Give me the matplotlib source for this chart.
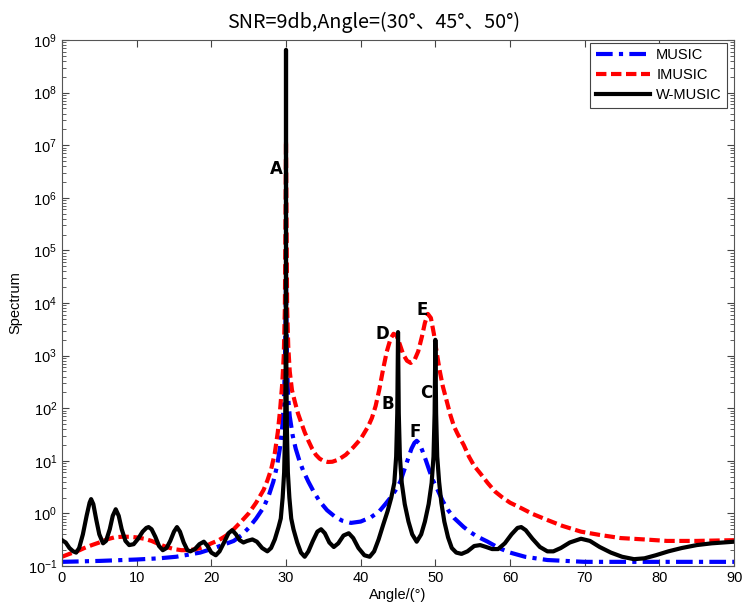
import matplotlib
matplotlib.use("Agg")
import matplotlib.pyplot as plt
from matplotlib.ticker import FixedLocator, NullFormatter, LogFormatterMathtext

plt.rcParams['font.family'] = ['Liberation Sans', 'DejaVu Sans']
plt.rcParams['mathtext.fontset'] = 'custom'
plt.rcParams['mathtext.rm'] = 'Liberation Sans'
plt.rcParams['mathtext.it'] = 'Liberation Sans:italic'

# ---- data ----
music_angle = [0, 5, 10, 13, 15.3, 17, 18.5, 20, 21.5, 23, 24, 25, 26, 27, 27.7, 28.3, 28.8,
               29.2, 29.5, 29.7, 29.85, 30, 30.15, 30.3, 30.5, 30.9, 31.3, 31.8, 32.3, 33,
               33.7, 34.5, 35.5, 36.5, 37.5, 38.7, 40, 41.4, 42.5, 43.3, 44, 44.7, 45.3,
               45.8, 46.3, 46.8, 47.2, 47.5, 47.9, 48.3, 48.7, 49.2, 49.7, 50.3, 51, 51.7,
               52.5, 53.8, 54.7, 55.5, 57, 58.5, 60, 62, 65, 70, 80, 90]
music_val = [0.12, 0.125, 0.133, 0.14, 0.15, 0.165, 0.18, 0.21, 0.25, 0.3, 0.38, 0.53, 0.8,
             1.3, 2.2, 4, 8, 18, 45, 120, 600, 2e4, 600, 150, 70, 30, 17, 10, 6.5, 4,
             2.6, 1.7, 1.15, 0.88, 0.73, 0.66, 0.7, 0.85, 1.1, 1.5, 2.0, 2.8, 4.0,
             6.5, 10.5, 17, 22, 24, 21, 15, 10.5, 6.5, 4.2, 2.8, 1.7, 1.16,
             0.82, 0.55, 0.44, 0.37, 0.29, 0.22, 0.18, 0.15, 0.13, 0.12, 0.12, 0.12]

imusic_angle = [0, 1, 2, 3, 4, 5, 6, 7, 8, 9, 10, 11, 12, 13, 14, 15, 16, 17, 18, 19, 20,
                21, 22, 23, 24, 25, 26, 27, 27.5, 28, 28.5, 28.9, 29.2, 29.5, 29.7, 29.85,
                30, 30.15, 30.3, 30.5, 30.8, 31.2, 31.6, 32, 32.5, 33, 33.5, 34, 34.5, 35,
                35.6, 36.2, 37, 38, 39, 40, 41, 41.5, 42, 42.5, 43, 43.5, 44, 44.4, 44.8,
                45.2, 45.7, 46.2, 46.7, 47.2, 47.7, 48.2, 48.6, 49, 49.4, 49.8, 50.2, 50.6,
                51, 51.5, 52, 52.5, 53, 53.8, 54.5, 55.2, 56, 57, 58, 59, 60, 61.5, 63, 65,
                67, 69.5, 72, 74.8, 78, 81, 85, 90]
imusic_val = [0.15, 0.17, 0.19, 0.22, 0.25, 0.28, 0.32, 0.35, 0.36, 0.36, 0.35, 0.33, 0.3,
              0.26, 0.23, 0.21, 0.2, 0.2, 0.21, 0.23, 0.27, 0.31, 0.38, 0.5, 0.7, 1.0, 1.6,
              2.8, 4.2, 6.8, 14, 35, 90, 300, 1000, 8000, 1.2e7, 8000, 1500, 500, 220,
              130, 80, 55, 35, 24, 17, 13, 11, 10, 9.5, 9.6, 10.5, 13, 18, 26, 45, 65,
              110, 230, 550, 1200, 2100, 2600, 2400, 1700, 1050, 800, 725, 820, 1200,
              2300, 4200, 6200, 5200, 2600, 1100, 500, 260, 140, 75, 45, 32, 20, 12, 8,
              5.8, 3.8, 2.6, 2.0, 1.6, 1.26, 0.98, 0.75, 0.58, 0.45, 0.39, 0.34, 0.32,
              0.30, 0.30, 0.31]

wmusic_angle = [0, 0.5, 1.0, 1.5, 1.9, 2.3, 2.8, 3.3, 3.7, 3.9, 4.2, 4.6, 5.0, 5.5, 5.9,
                6.4, 6.8, 7.2, 7.6, 8.0, 8.5, 9.0, 9.6, 10.2, 10.8, 11.3, 11.6, 12.0, 12.5,
                13.0, 13.5, 14.0, 14.5, 15.0, 15.4, 15.8, 16.3, 16.8, 17.2, 17.8, 18.4,
                19.0, 19.5, 20.0, 20.6, 21.1, 21.7, 22.3, 22.8, 23.3, 23.8, 24.3, 24.8,
                25.5, 26.1, 26.8, 27.5, 28.0, 28.5, 29.0, 29.3, 29.55, 29.75, 29.88, 29.95,
                29.99, 30, 30.01, 30.05, 30.12, 30.25, 30.45, 30.7, 31.0, 31.5, 32.0, 32.5,
                33.0, 33.6, 34.2, 34.7, 35.2, 35.8, 36.4, 37.0, 37.7, 38.4, 39.0, 39.7,
                40.5, 41.2, 41.8, 42.4, 43.0, 43.6, 44.1, 44.5, 44.75, 44.9, 44.97, 45,
                45.03, 45.1, 45.25, 45.5, 45.9, 46.4, 46.9, 47.5, 48.1, 48.6, 49.1, 49.5,
                49.75, 49.9, 49.97, 50, 50.03, 50.1, 50.25, 50.5, 50.8, 51.2, 51.7, 52.2,
                52.8, 53.5, 54.3, 55.2, 56.0, 56.8, 57.6, 58.4, 59.3, 60.2, 61.0, 61.5,
                62.1, 63.0, 64.0, 65.0, 65.8, 66.8, 68.0, 69.5, 70.7, 72.0, 73.5, 75.0,
                76.6, 78.0, 79.5, 81.2, 83.0, 85.0, 87.0, 88.5, 90]
wmusic_val = [0.31, 0.28, 0.22, 0.19, 0.18, 0.22, 0.4, 0.9, 1.6, 1.87, 1.5, 0.75, 0.4,
              0.27, 0.3, 0.5, 0.9, 1.2, 0.9, 0.5, 0.3, 0.25, 0.26, 0.33, 0.45, 0.53,
              0.55, 0.5, 0.36, 0.24, 0.2, 0.22, 0.3, 0.45, 0.55, 0.45, 0.28, 0.2, 0.19,
              0.21, 0.26, 0.29, 0.24, 0.18, 0.16, 0.19, 0.28, 0.42, 0.48, 0.4, 0.31,
              0.28, 0.3, 0.32, 0.29, 0.22, 0.19, 0.22, 0.32, 0.55, 0.8, 2, 6, 40, 500,
              1e5, 6.5e8, 1e5, 500, 40, 6, 2, 0.8, 0.5, 0.28, 0.18, 0.15, 0.19, 0.3,
              0.45, 0.5, 0.42, 0.28, 0.23, 0.27, 0.38, 0.42, 0.34, 0.22, 0.16, 0.15,
              0.19, 0.32, 0.6, 1.1, 2.0, 3.8, 12, 80, 800, 2800, 800, 80, 12, 3.8, 1.5,
              0.7, 0.4, 0.29, 0.4, 0.7, 1.5, 3.8, 12, 80, 700, 2000, 700, 80, 12, 4,
              1.6, 0.7, 0.35, 0.22, 0.18, 0.17, 0.19, 0.24, 0.25, 0.23, 0.21, 0.21,
              0.27, 0.4, 0.53, 0.55, 0.48, 0.33, 0.23, 0.19, 0.19, 0.22, 0.28, 0.33,
              0.3, 0.23, 0.18, 0.15, 0.135, 0.14, 0.16, 0.19, 0.22, 0.25, 0.27, 0.28,
              0.29]

labels = ['A', 'B', 'C', 'D', 'E', 'F']
label_angle = [28.65, 43.66, 48.75, 42.86, 48.2, 47.3]
label_val = [3.5e6, 120, 195, 2570, 7360, 35]

x_ticks = list(range(0, 91, 10))
y_ticks = [10.0 ** k for k in range(-1, 10)]
y_minor = [m * 10.0 ** k for k in range(-1, 9) for m in range(2, 10)]
title = 'SNR=9db,Angle=(30°、45°、50°)'

# ---- figure ----
fig = plt.figure(figsize=(7.43, 6.10), dpi=100)
ax = fig.add_axes([0.0834, 0.0721, 0.9046, 0.8623])

ax.plot(music_angle, music_val, color=(0, 0, 1), linestyle=(0, (4, 1.5, 1, 1.5)),
        linewidth=3, label='MUSIC', zorder=2)
ax.plot(imusic_angle, imusic_val, color=(1, 0, 0), linestyle=(0, (2.5, 1.1)),
        linewidth=3, label='IMUSIC', zorder=2)
ax.plot(wmusic_angle, wmusic_val, color='black', linestyle='-',
        linewidth=3, label='W-MUSIC', zorder=3)

for t, xa, ya in zip(labels, label_angle, label_val):
    ax.text(xa, ya, t, fontsize=12, fontweight='bold', ha='center', va='center',
            family=['DejaVu Sans'], zorder=5)

ax.set_yscale('log')
ax.set_xlim(0, 90)
ax.set_ylim(1e-1, 1e9)
ax.xaxis.set_major_locator(FixedLocator(x_ticks))
ax.yaxis.set_major_locator(FixedLocator(y_ticks))
ax.yaxis.set_major_formatter(LogFormatterMathtext())
ax.yaxis.set_minor_locator(FixedLocator(y_minor))
ax.yaxis.set_minor_formatter(NullFormatter())
ax.tick_params(axis='both', which='both', direction='in', top=True, right=True,
               colors='#444444', labelcolor='black', labelsize=10.5)
ax.tick_params(which='major', length=5)
ax.tick_params(which='minor', length=3)
for s in ax.spines.values():
    s.set_color('#555555')

ax.set_xlabel('Angle/(°)', fontsize=10.5, labelpad=2)
ax.set_ylabel('Spectrum', fontsize=10.5, labelpad=4)
ax.set_title(title, fontsize=14.2, family=['Noto Sans CJK SC', 'DejaVu Sans'],
             x=0.463, pad=9)

leg = ax.legend(loc='upper right', fontsize=10.5, fancybox=False, framealpha=1,
                edgecolor='#444444', handlelength=3.7, borderaxespad=0.0,
                labelspacing=0.42, handletextpad=0.45, borderpad=0.38,
                bbox_to_anchor=(0.99, 0.995))
leg.get_frame().set_linewidth(0.8)

fig.savefig('out.png', dpi=100)
